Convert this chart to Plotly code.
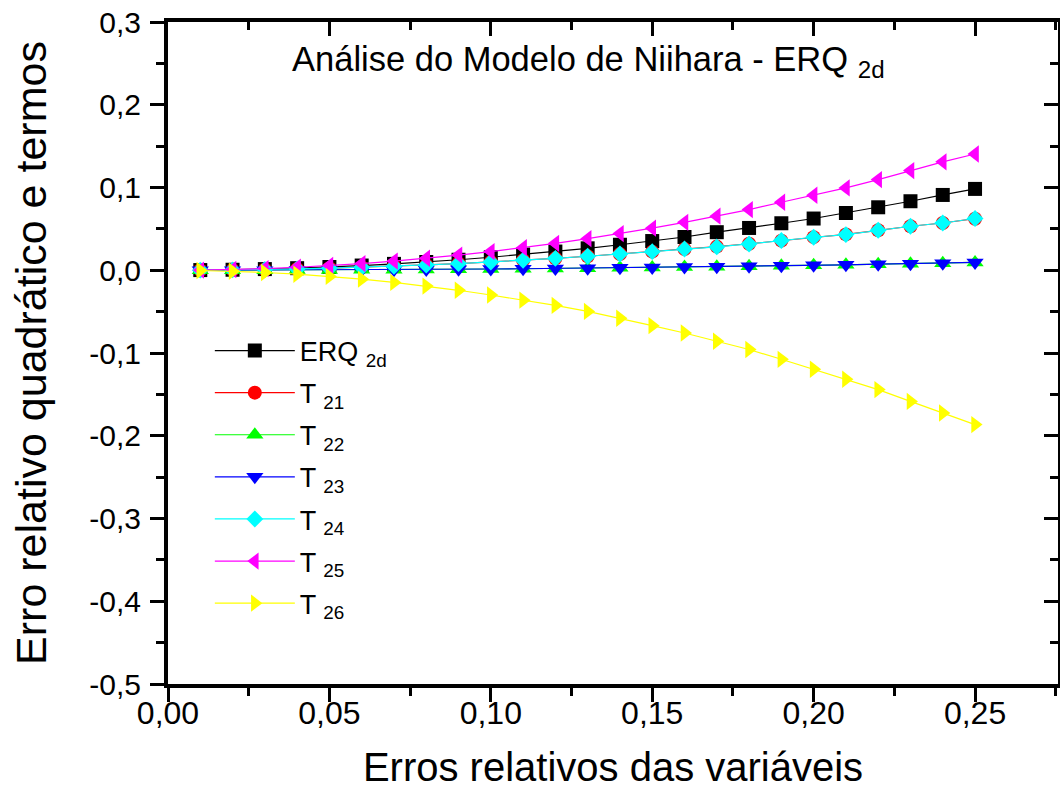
import plotly.graph_objects as go

x_vals = [0.01, 0.02, 0.03, 0.04, 0.05, 0.06, 0.07, 0.08, 0.09, 0.10,
          0.11, 0.12, 0.13, 0.14, 0.15, 0.16, 0.17, 0.18, 0.19, 0.20,
          0.21, 0.22, 0.23, 0.24, 0.25]

erq_2d = [0.0002, 0.0006, 0.0014, 0.0025, 0.0039, 0.0057, 0.0077, 0.0100, 0.0127, 0.0157,
          0.0190, 0.0226, 0.0265, 0.0308, 0.0353, 0.0402, 0.0460, 0.0511, 0.0568, 0.0625,
          0.0692, 0.0761, 0.0834, 0.0910, 0.0983]
t21 = [0.0001, 0.0004, 0.0009, 0.0016, 0.0025, 0.0036, 0.0049, 0.0064, 0.0081, 0.0100,
       0.0121, 0.0144, 0.0169, 0.0196, 0.0225, 0.0256, 0.0286, 0.0320, 0.0358, 0.0400,
       0.0433, 0.0483, 0.0532, 0.0571, 0.0623]
t22 = [0.0000, 0.0001, 0.0001, 0.0002, 0.0004, 0.0005, 0.0007, 0.0010, 0.0012, 0.0015,
       0.0018, 0.0022, 0.0025, 0.0029, 0.0034, 0.0038, 0.0043, 0.0049, 0.0054, 0.0060,
       0.0066, 0.0073, 0.0079, 0.0086, 0.0094]
t23 = [0.0000, 0.0001, 0.0001, 0.0002, 0.0004, 0.0005, 0.0007, 0.0010, 0.0012, 0.0015,
       0.0018, 0.0022, 0.0025, 0.0029, 0.0034, 0.0038, 0.0043, 0.0049, 0.0054, 0.0060,
       0.0066, 0.0073, 0.0079, 0.0086, 0.0094]
t24 = [0.0001, 0.0004, 0.0009, 0.0016, 0.0025, 0.0036, 0.0049, 0.0064, 0.0081, 0.0100,
       0.0121, 0.0144, 0.0169, 0.0196, 0.0225, 0.0256, 0.0282, 0.0318, 0.0359, 0.0399,
       0.0431, 0.0483, 0.0532, 0.0571, 0.0625]
t25 = [0.0002, 0.0009, 0.0020, 0.0036, 0.0057, 0.0081, 0.0111, 0.0145, 0.0183, 0.0226,
       0.0273, 0.0325, 0.0382, 0.0443, 0.0509, 0.0579, 0.0653, 0.0733, 0.0822, 0.0906,
       0.0995, 0.1096, 0.1205, 0.1310, 0.1405]
t26 = [-0.0003, -0.0012, -0.0027, -0.0048, -0.0075, -0.0108, -0.0147, -0.0191, -0.0242, -0.0299,
       -0.0362, -0.0425, -0.0498, -0.0580, -0.0670, -0.0758, -0.0858, -0.0958, -0.1076, -0.1196,
       -0.1317, -0.1442, -0.1585, -0.1725, -0.1865]

series_names = ["ERQ <sub>2d</sub>", "T <sub>21</sub>", "T <sub>22</sub>", "T <sub>23</sub>",
                "T <sub>24</sub>", "T <sub>25</sub>", "T <sub>26</sub>"]
series_values = [erq_2d, t21, t22, t23, t24, t25, t26]
series_colors = ["#000000", "#FF0000", "#00FF00", "#0000FF", "#00FFFF", "#FF00FF", "#FFFF00"]
series_symbols = ["square", "circle", "triangle-up", "triangle-down", "diamond",
                  "triangle-left", "triangle-right"]
series_sizes = [14, 14, 15, 15, 13, 15, 15]

x_tickvals = [0.00, 0.05, 0.10, 0.15, 0.20, 0.25]
x_ticktext = ["0,00", "0,05", "0,10", "0,15", "0,20", "0,25"]
y_tickvals = [0.3, 0.2, 0.1, 0.0, -0.1, -0.2, -0.3, -0.4, -0.5]
y_ticktext = ["0,3", "0,2", "0,1", "0,0", "-0,1", "-0,2", "-0,3", "-0,4", "-0,5"]

FONT = "Liberation Sans, Arial, sans-serif"
x_range = [0, 0.2757]
y_range = [-0.5, 0.3]

fig = go.Figure()
for i, (name, vals, col, sym, sz) in enumerate(zip(series_names, series_values, series_colors,
                                                   series_symbols, series_sizes)):
    fig.add_trace(go.Scatter(
        x=x_vals, y=vals, name=name, mode="lines+markers", legendgroup=f"g{i}",
        line=dict(color=col, width=1.2),
        marker=dict(symbol=sym, color=col, size=sz, line=dict(width=0)),
    ))

# invisible trace to carry the mirrored (inside) ticks on top and right
fig.add_trace(go.Scatter(x=[], y=[], xaxis="x2", yaxis="y2", showlegend=False))

axis_common = dict(showgrid=False, zeroline=False, linecolor="black", linewidth=4,
                   tickcolor="black", tickwidth=3, automargin=False,
                   ticklabeloverflow="allow")

fig.update_layout(
    width=1060, height=789,
    margin=dict(l=168, r=2, t=22, b=105),
    paper_bgcolor="white", plot_bgcolor="white",
    font=dict(family=FONT, color="black"),
    showlegend=True,
    legend=dict(x=0.047, y=0.54, xanchor="left", yanchor="top",
                bgcolor="rgba(0,0,0,0)", borderwidth=0,
                font=dict(size=27, family=FONT), itemwidth=80,
                traceorder="grouped", tracegroupgap=4),
    xaxis=dict(range=x_range, tickvals=x_tickvals, ticktext=x_ticktext,
               ticks="outside", ticklen=14, showline=True, mirror=True,
               tickfont=dict(size=32, family=FONT), ticklabelstandoff=-16,
               minor=dict(ticks="outside", ticklen=8, tickwidth=3, tickcolor="black",
                          tick0=0, dtick=0.025),
               title=dict(text="Erros relativos das variáveis",
                          font=dict(size=40, family=FONT), standoff=26),
               **axis_common),
    yaxis=dict(range=y_range, tickvals=y_tickvals, ticktext=y_ticktext,
               ticks="outside", ticklen=14, showline=True, mirror=True,
               tickfont=dict(size=30, family=FONT), ticklabelstandoff=3,
               minor=dict(ticks="outside", ticklen=8, tickwidth=3, tickcolor="black",
                          tick0=0, dtick=0.05),
               title=dict(text="Erro relativo quadrático e termos",
                          font=dict(size=43, family=FONT), standoff=30),
               **axis_common),
    xaxis2=dict(range=x_range, overlaying="x", side="top", tickvals=x_tickvals,
                showticklabels=False, ticks="inside", ticklen=14, automargin=False,
                minor=dict(ticks="inside", ticklen=8, tickwidth=3, tickcolor="black",
                           tick0=0, dtick=0.025),
                showgrid=False, zeroline=False, showline=False,
                tickcolor="black", tickwidth=3),
    yaxis2=dict(range=y_range, overlaying="y", side="right", tickvals=y_tickvals,
                showticklabels=False, ticks="inside", ticklen=14, automargin=False,
                minor=dict(ticks="inside", ticklen=8, tickwidth=3, tickcolor="black",
                           tick0=0, dtick=0.05),
                showgrid=False, zeroline=False, showline=False,
                tickcolor="black", tickwidth=3),
    annotations=[dict(text="Análise do Modelo de Niihara - ERQ <sub>2d</sub>",
                      xref="paper", yref="paper", x=0.472, y=0.94,
                      xanchor="center", yanchor="middle", showarrow=False,
                      font=dict(size=34.5, family=FONT, color="black"))],
)

# remove the page's default 8px body margin so the figure fills the window exactly
fig.write_html("out.html", config={"displayModeBar": False},
               post_script="document.body.style.margin='0';")
